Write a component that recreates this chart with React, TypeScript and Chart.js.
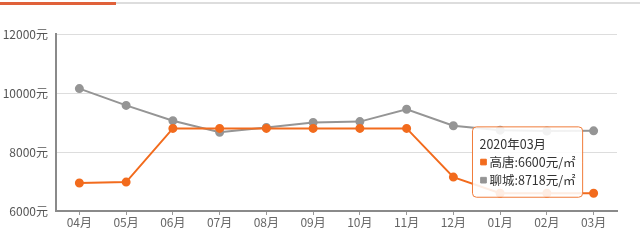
import React, { useEffect, useRef } from "react";
import { Chart, registerables } from "chart.js";

Chart.register(...registerables);

const months = ["04月", "05月", "06月", "07月", "08月", "09月", "10月", "11月", "12月", "01月", "02月", "03月"];
const fullMonths = ["2019年04月", "2019年05月", "2019年06月", "2019年07月", "2019年08月", "2019年09月", "2019年10月", "2019年11月", "2019年12月", "2020年01月", "2020年02月", "2020年03月"];
const gaotang = [6950, 6980, 8800, 8800, 8800, 8800, 8800, 8800, 7150, 6600, 6600, 6600];
const liaocheng = [10150, 9580, 9060, 8670, 8830, 9000, 9030, 9450, 8890, 8740, 8710, 8718];
const yTicks = [6000, 8000, 10000, 12000];

const ORANGE = "#f26b1d";
const GRAY = "#959595";
const FONT = "'Noto Sans CJK SC', 'Noto Sans', sans-serif";

export default function App() {
  const ref = useRef<HTMLCanvasElement>(null);
  useEffect(() => {
    document.body.style.margin = "0";
    const canvas = ref.current!;
    const chart = new Chart(canvas, {
      type: "line",
      data: {
        labels: months,
        datasets: [
          {
            label: "高唐",
            data: gaotang,
            borderColor: ORANGE,
            backgroundColor: ORANGE,
            pointBackgroundColor: ORANGE,
            pointBorderColor: ORANGE,
            borderWidth: 2,
            pointRadius: 3.5,
            pointHoverRadius: 3.5,
            tension: 0,
          },
          {
            label: "聊城",
            data: liaocheng,
            borderColor: GRAY,
            backgroundColor: GRAY,
            pointBackgroundColor: GRAY,
            pointBorderColor: GRAY,
            borderWidth: 2,
            pointRadius: 3.5,
            pointHoverRadius: 3.5,
            tension: 0,
          },
        ],
      },
      options: {
        animation: false,
        responsive: false,
        events: [],
        layout: { padding: { top: 34, right: 23, left: 0, bottom: 0 } },
        plugins: {
          legend: { display: false },
          tooltip: {
            enabled: true,
            mode: "index",
            intersect: false,
            backgroundColor: "rgba(255,255,255,0.88)",
            borderColor: "#f07c3a",
            borderWidth: 1,
            cornerRadius: 4,
            caretSize: 0,
            caretPadding: 11,
            padding: { left: 7, right: 7, top: 8, bottom: 8 },
            titleColor: "#333",
            bodyColor: "#333",
            titleFont: { family: FONT, size: 12.5, weight: "normal", lineHeight: 1.45 },
            bodyFont: { family: FONT, size: 12.5, lineHeight: 1.45 },
            titleMarginBottom: 0,
            bodySpacing: 0,
            boxWidth: 8,
            boxHeight: 8,
            boxPadding: 0,
            usePointStyle: true,
            displayColors: true,
            callbacks: {
              title: (items: any[]) => fullMonths[items[0].dataIndex],
              label: (ctx: any) => `${ctx.dataset.label}:${ctx.parsed.y}元/㎡`,
              labelColor: (ctx: any) => ({
                borderColor: ctx.dataset.borderColor,
                backgroundColor: ctx.dataset.borderColor,
                borderWidth: 1,
              }),
              labelPointStyle: () => ({ pointStyle: "rect", rotation: 0 }),
            },
          },
        },
        scales: {
          x: {
            offset: true,
            grid: {
              offset: false,
              drawOnChartArea: false,
              drawTicks: true,
              tickLength: 4,
              color: "#999",
            },
            border: { color: "#8a8a8a", width: 2 },
            ticks: {
              color: "#666",
              font: { family: FONT, size: 12 },
              padding: 0,
              maxRotation: 0,
            },
            afterFit: (s: any) => {
              s.height = 41;
            },
          },
          y: {
            min: 6000,
            max: 12000,
            afterBuildTicks: (s: any) => {
              s.ticks = yTicks.map((v) => ({ value: v }));
            },
            grid: { color: "#dddddd", drawTicks: false },
            border: { color: "#8a8a8a", width: 2 },
            ticks: {
              color: "#555",
              font: { family: FONT, size: 12 },
              padding: 8,
              callback: (v: any) => `${v}元`,
            },
            afterFit: (s: any) => {
              s.width = 56;
            },
          },
        },
      },
    });
    chart.tooltip!.setActiveElements(
      [
        { datasetIndex: 0, index: 11 },
        { datasetIndex: 1, index: 11 },
      ],
      { x: 0, y: 0 }
    );
    chart.update();
    return () => chart.destroy();
  }, []);
  return (
    <div style={{ position: "relative", width: 640, height: 252, background: "#fff" }}>
      <div style={{ position: "absolute", left: 0, top: 2, width: 640, height: 2, background: "#dddddd" }} />
      <div style={{ position: "absolute", left: 0, top: 2, width: 116, height: 3, background: "#e0613a" }} />
      <canvas ref={ref} width={640} height={252} style={{ display: "block" }} />
    </div>
  );
}
